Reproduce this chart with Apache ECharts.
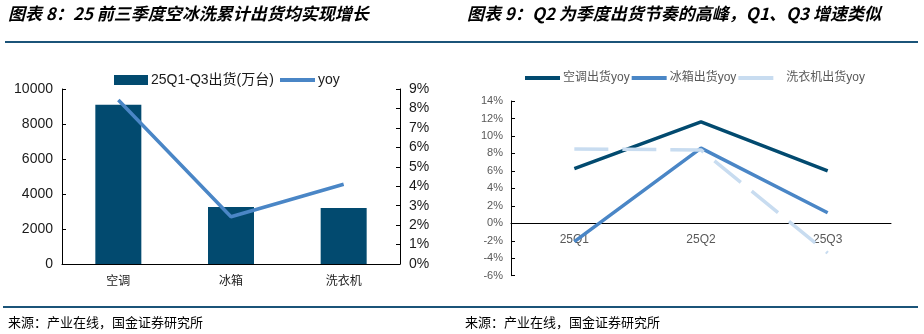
<!DOCTYPE html>
<html><head><meta charset="utf-8">
<script src="https://cdn.jsdelivr.net/npm/echarts@6/dist/echarts.min.js"></script>
<style>html,body{margin:0;padding:0;background:#fff}#c{width:924px;height:334px}</style>
</head><body><div id="c"></div>
<script>
// Left chart data
var leftCategories = ['空调', '冰箱', '洗衣机'];
var shipments = [9100, 3260, 3200];           // 25Q1-Q3出货(万台)
var shipmentYoy = [8.43, 2.43, 4.1];           // yoy %
// Right chart data
var quarters = ['25Q1', '25Q2', '25Q3'];
var acYoy = [6.25, 11.6, 6.0];
var fridgeYoy = [-2.1, 8.6, 1.2];
var washerYoy = [8.5, 8.4, -3.4];

var dark = '#024a6f', mid = '#4a86c6', light = '#c8dcf0', rule = '#1b5479';
var cjk = '"Liberation Sans", Arial, "Noto Sans CJK SC", sans-serif';
var rMin = -6, rMax = 14, rHeight = 174.7;
var lineIcon = 'path://M0,0 L35,0 L35,4 L0,4 Z';

var chart = echarts.init(document.getElementById('c'));
chart.setOption({
  animation: false,
  textStyle: { fontFamily: cjk },
  graphic: [
    { type: 'text', left: 8, top: 5, style: { text: '图表 8：25 前三季度空冰洗累计出货均实现增长', font: 'italic bold 17px "Noto Sans CJK SC", sans-serif', fill: '#000' } },
    { type: 'text', left: 467, top: 5, style: { text: '图表 9：Q2 为季度出货节奏的高峰，Q1、Q3 增速类似', font: 'italic bold 17px "Noto Sans CJK SC", sans-serif', fill: '#000' } },
    { type: 'line', shape: { x1: 5, y1: 42, x2: 918, y2: 42 }, style: { stroke: rule, lineWidth: 2 } },
    { type: 'line', shape: { x1: 3, y1: 307, x2: 918, y2: 307 }, style: { stroke: rule, lineWidth: 2 } },
    { type: 'text', left: 8, top: 316, style: { text: '来源：产业在线，国金证券研究所', font: '13px "Noto Sans CJK SC", sans-serif', fill: '#000' } },
    { type: 'text', left: 465, top: 316, style: { text: '来源：产业在线，国金证券研究所', font: '13px "Noto Sans CJK SC", sans-serif', fill: '#000' } }
  ],
  legend: [
    { left: 109, top: 68, itemWidth: 34, itemHeight: 10, itemGap: 7,
      textStyle: { fontSize: 14, color: '#1a1a1a', padding: [0, 0, 0, -2] },
      data: [{ name: '25Q1-Q3出货(万台)', icon: 'rect' }] },
    { left: 275, top: 68, itemWidth: 37, itemHeight: 4, itemGap: 7,
      textStyle: { fontSize: 14, color: '#1a1a1a', padding: [0, 0, 0, -3] },
      data: [{ name: 'yoy', icon: lineIcon }] },
    { left: 520, top: 67, itemWidth: 35, itemHeight: 4, itemGap: 2,
      textStyle: { fontSize: 12, color: '#595959', padding: [0, 0, 0, -2] },
      data: [
        { name: '空调出货yoy', icon: lineIcon },
        { name: '冰箱出货yoy', icon: lineIcon },
        { name: '洗衣机出货yoy', icon: lineIcon }
      ],
      formatter: function (n) { return n === '洗衣机出货yoy' ? '   ' + n : n; } }
  ],
  grid: [
    { left: 62, top: 89, width: 338, height: 175 },
    { left: 511, top: 101, width: 380, height: rHeight }
  ],
  xAxis: [
    { type: 'category', gridIndex: 0, data: leftCategories,
      axisLine: { lineStyle: { color: '#000', width: 1 } },
      axisTick: { inside: true, length: 4, lineStyle: { color: '#000' } },
      axisLabel: { color: '#1a1a1a', fontSize: 12, margin: 10, fontFamily: '"Noto Sans CJK SC", sans-serif' } },
    { type: 'category', gridIndex: 1, data: quarters,
      offset: -rHeight * (0 - rMin) / (rMax - rMin),
      axisLine: { onZero: false, lineStyle: { color: '#000', width: 1 } },
      axisTick: { inside: true, length: 6, lineStyle: { color: '#000' } },
      axisLabel: { color: '#595959', fontSize: 12, margin: 10 } }
  ],
  yAxis: [
    { type: 'value', gridIndex: 0, min: 0, max: 10000, interval: 2000,
      axisLine: { show: true, lineStyle: { color: '#000' } },
      axisTick: { show: true, inside: true, length: 4, lineStyle: { color: '#000' } },
      splitLine: { show: false },
      axisLabel: { color: '#1a1a1a', fontSize: 14, margin: 9, formatter: function (v) { return String(v); } } },
    { type: 'value', gridIndex: 0, position: 'right', min: 0, max: 9, interval: 1,
      axisLine: { show: true, lineStyle: { color: '#000' } },
      axisTick: { show: true, inside: true, length: 4, lineStyle: { color: '#000' } },
      splitLine: { show: false },
      axisLabel: { color: '#1a1a1a', fontSize: 14, margin: 9, formatter: '{value}%' } },
    { type: 'value', gridIndex: 1, min: rMin, max: rMax, interval: 2,
      axisLine: { show: true, lineStyle: { color: '#000' } },
      axisTick: { show: true, inside: true, length: 4, lineStyle: { color: '#000' } },
      splitLine: { show: false },
      axisLabel: { color: '#595959', fontSize: 11, margin: 8, formatter: '{value}%' } }
  ],
  series: [
    { name: '25Q1-Q3出货(万台)', type: 'bar', xAxisIndex: 0, yAxisIndex: 0, data: shipments,
      barWidth: 46, itemStyle: { color: dark } },
    { name: 'yoy', type: 'line', xAxisIndex: 0, yAxisIndex: 1, data: shipmentYoy,
      symbol: 'none', lineStyle: { color: mid, width: 3.5 }, itemStyle: { color: mid } },
    { name: '空调出货yoy', type: 'line', xAxisIndex: 1, yAxisIndex: 2, data: acYoy,
      symbol: 'none', lineStyle: { color: dark, width: 3.5 }, itemStyle: { color: dark } },
    { name: '冰箱出货yoy', type: 'line', xAxisIndex: 1, yAxisIndex: 2, data: fridgeYoy,
      symbol: 'none', lineStyle: { color: mid, width: 3.5 }, itemStyle: { color: mid } },
    { name: '洗衣机出货yoy', type: 'line', xAxisIndex: 1, yAxisIndex: 2, data: washerYoy,
      symbol: 'none', lineStyle: { color: light, width: 3.5, type: [34, 14] }, itemStyle: { color: light } }
  ]
});
</script></body></html>
